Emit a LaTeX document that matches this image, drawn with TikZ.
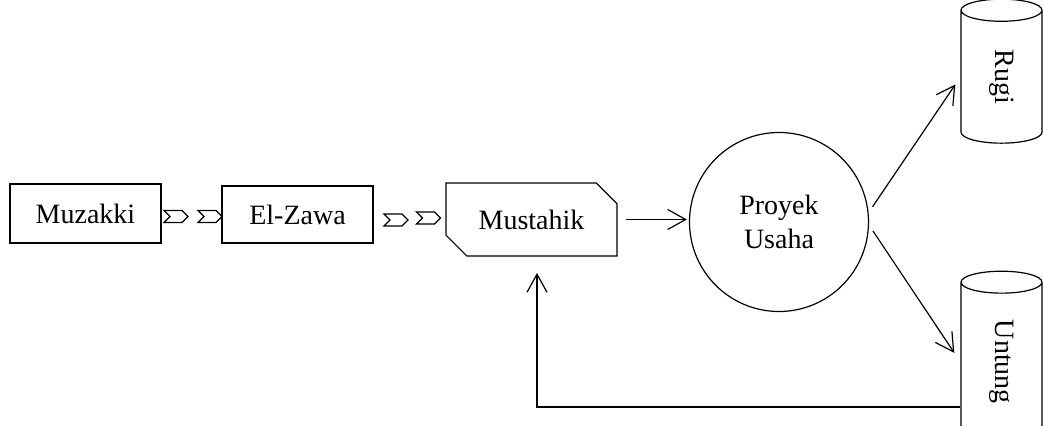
\documentclass[tikz,border=0pt]{standalone}
\usepackage{fontspec}
\setmainfont{Liberation Serif}
\usetikzlibrary{arrows.meta,shapes.misc,shapes.geometric,shapes.symbols}

\begin{document}
\begin{tikzpicture}[x=0.5pt, y=-0.5pt, line width=0.6pt,
	font=\fontsize{14}{17}\selectfont,
	box/.style = {draw, rectangle, inner sep=0pt},
	flow/.style = {draw, signal, signal from=west, signal to=east, minimum width=12pt, minimum height=6pt, inner sep=0pt},
	store/.style = {draw, cylinder, rotate=-90, shape border rotate=180, aspect=0.9, inner sep=0pt, minimum width=40.5pt},
	arr/.style = {-{Straight Barb[length=9pt,width=10pt]}}]
		\useasboundingbox (0,0) rectangle (1043,426);
		\clip (0,0) rectangle (1043,426);
		\node[box, minimum width=75.5pt, minimum height=29.5pt] (muzakki) at (85.5,213.5) {Muzakki};
		\node[box, minimum width=75.5pt, minimum height=28.5pt] (elzawa) at (297.5,214.5) {El-Zawa};
		\node[draw, chamfered rectangle, chamfered rectangle corners={north east,south west}, chamfered rectangle xsep=5pt, chamfered rectangle ysep=5.5pt, inner sep=0pt, minimum width=85.5pt, minimum height=36.5pt] (mustahik) at (531.5,219.5) {Mustahik};
		\node[draw, circle, minimum size=89.5pt, inner sep=0pt, align=center] (proyek) at (779,222) {Proyek\\Usaha};
		\node[store, minimum height=72pt] (rugi) at (1001.5,77) {Rugi};
		\node[store, minimum height=85pt] (untung) at (1001.5,362) {Untung};
		\node[flow] (f1) at (176,216.5) {};
		\node[flow] (f2) at (210,216.5) {};
		\node[flow] (f3) at (396,220) {};
		\node[flow] (f4) at (428.5,218) {};
		\coordinate (fb) at (537,407);
		\coordinate (fbtip) at (537,273);
		\draw[arr, shorten <=4pt, shorten >=1pt] (mustahik.east) -- (mustahik.east -| proyek.west);
		\draw[arr, shorten <=3.5pt, shorten >=4.5pt] (proyek.6) -- (rugi.south);
		\draw[arr, shorten <=3.5pt, shorten >=5.5pt] (proyek.-2) -- (untung.south);
		\draw[arr] (untung.south |- fb) -- (fb) -- (fbtip);

	\end{tikzpicture}
\end{document}
